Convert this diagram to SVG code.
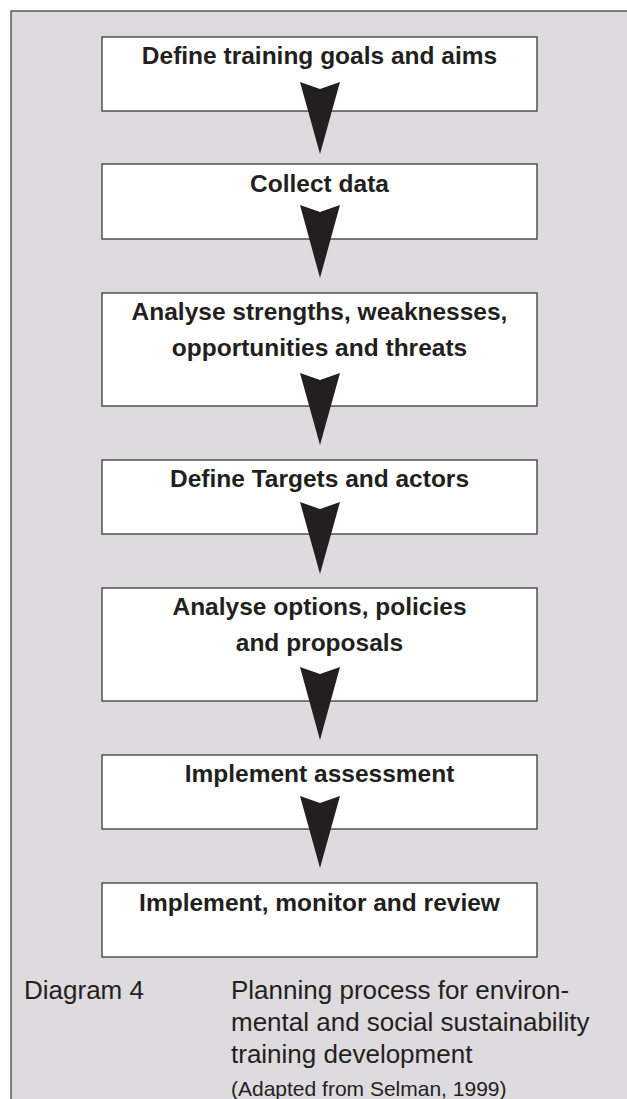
<svg xmlns="http://www.w3.org/2000/svg" width="627" height="1099" viewBox="0 0 627 1099">
<style>
.frame{fill:#dddbde;stroke:#5a5a5a;stroke-width:1.5}
.box{fill:#ffffff;stroke:#3a3a3a;stroke-width:1.3}
.lbl{font-family:"Liberation Sans",Arial,sans-serif;font-size:24.5px;font-weight:bold;fill:#231f20;text-anchor:middle}
.cap{font-family:"Liberation Sans",Arial,sans-serif;font-size:26px;fill:#231f20}
.src{font-family:"Liberation Sans",Arial,sans-serif;font-size:21px;fill:#231f20}
.arr{fill:#231f20}
</style>
<rect x="0" y="0" width="627" height="1099" fill="#ffffff"/>
<rect class="frame" x="11" y="11" width="640" height="1110"/>
<g id="node1"><rect class="box" x="102" y="37" width="435" height="74"/><text class="lbl" x="319.5" y="64">Define training goals and aims</text></g>
<g id="node2"><rect class="box" x="102" y="164" width="435" height="75"/><text class="lbl" x="319.5" y="192">Collect data</text></g>
<g id="node3"><rect class="box" x="102" y="293" width="435" height="113"/><text class="lbl" x="319.5" y="320">Analyse strengths, weaknesses,</text><text class="lbl" x="319.5" y="356">opportunities and threats</text></g>
<g id="node4"><rect class="box" x="102" y="460" width="435" height="74"/><text class="lbl" x="319.5" y="487">Define Targets and actors</text></g>
<g id="node5"><rect class="box" x="102" y="588" width="435" height="113"/><text class="lbl" x="319.5" y="615">Analyse options, policies</text><text class="lbl" x="319.5" y="651">and proposals</text></g>
<g id="node6"><rect class="box" x="102" y="755" width="435" height="74"/><text class="lbl" x="319.5" y="782">Implement assessment</text></g>
<g id="node7"><rect class="box" x="102" y="883" width="435" height="74"/><text class="lbl" x="319.5" y="911">Implement, monitor and review</text></g>
<g id="connectors">
<polygon class="arr" points="300,82 320,89 340,82 320,154"/>
<polygon class="arr" points="300,205 320,212 340,205 320,278"/>
<polygon class="arr" points="300,373 320,380 340,373 320,445"/>
<polygon class="arr" points="300,502 320,509 340,502 320,574"/>
<polygon class="arr" points="300,667 320,674 340,667 320,740"/>
<polygon class="arr" points="300,796 320,803 340,796 320,868"/>
</g>
<g id="caption">
<text class="cap" x="24" y="999">Diagram 4</text>
<text class="cap" x="231" y="999">Planning process for environ-</text>
<text class="cap" x="231" y="1031">mental and social sustainability</text>
<text class="cap" x="231" y="1063">training development</text>
<text class="src" x="231" y="1096">(Adapted from Selman, 1999)</text>
</g>
</svg>
